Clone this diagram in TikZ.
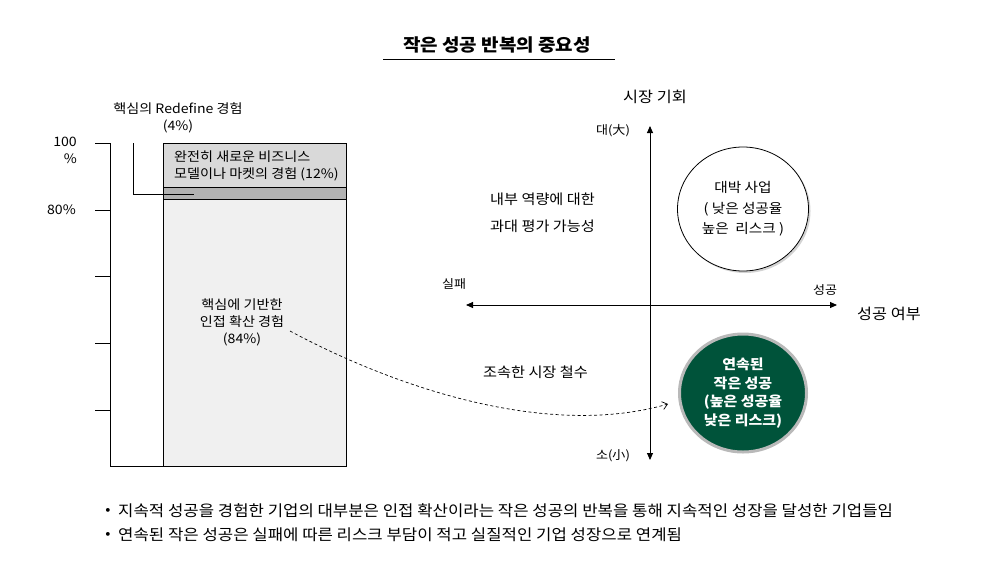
\documentclass[tikz,border=0pt]{standalone}
\usepackage{fontspec}
\setmainfont[FakeStretch=1.085]{Noto Sans CJK KR}
\usetikzlibrary{arrows.meta,shadows,shapes.geometric}
\definecolor{darkgreen}{RGB}{0,83,58}
\definecolor{ringgray}{RGB}{185,185,185}
\definecolor{bartop}{RGB}{217,217,217}
\definecolor{barmid}{RGB}{178,178,178}
\definecolor{barlow}{RGB}{240,240,240}
\begin{document}
\begin{tikzpicture}[x=1pt,y=-1pt,
  txt/.style={inner sep=0pt, align=center, font=\fontsize{13}{17}\selectfont},
  small/.style={inner sep=0pt, align=center, font=\fontsize{12}{15}\selectfont},
  axlbl/.style={inner sep=0pt, align=center, font=\fontsize{15}{18}\selectfont},
  midlbl/.style={inner sep=0pt, align=left, font=\fontsize{14}{18}\selectfont},
  bullettxt/.style={inner sep=0pt, anchor=west, font=\fontsize{15.4}{18}\selectfont},
  axisline/.style={line width=0.9pt, {Triangle[length=7pt,width=6pt]}-{Triangle[length=7pt,width=6pt]}},
  thin/.style={line width=0.8pt}
]
\useasboundingbox (0,0) rectangle (987,563);

% title
\node[inner sep=0pt, font=\fontsize{17.5}{20}\bfseries\selectfont] (title) at (497,45) {작은 성공 반복의 중요성};
\draw[thin] (383,59) -- (615,59);

% left chart axes
\draw[thin] (110,143) -- (110,466) -- (346,466);
\foreach \yy in {143,210,276,343,410} \draw[thin] (95,\yy) -- (110,\yy);

% bar segments
\draw[thin, fill=barlow] (163,199) rectangle (346,466);
\draw[thin, fill=barmid] (163,187) rectangle (346,199);
\draw[thin, fill=bartop] (163,143) rectangle (346,187);

% axis labels
\node[txt, align=right, anchor=east] (p100) at (77,150) {100\\\%};
\node[txt, anchor=east] (p80) at (76,210) {80\%};

% bar labels
\node[txt] (redef) at (178,118) {핵심의 Redefine 경험\\(4\%)};
\coordinate (leadA) at (133,143);
\coordinate (leadB) at (194,194);
\draw[thin] (leadA) |- (leadB);
\node[txt, align=left, anchor=west] (newbiz) at (174,166) {완전히 새로운 비즈니스\\모델이나 마켓의 경험 (12\%)};
\node[txt] (core) at (242,322) {핵심에 기반한\\인접 확산 경험\\(84\%)};

% quadrant
\coordinate (vtop) at (650,126);
\coordinate (vbot) at (650,460);
\coordinate (hl) at (466,305);
\coordinate (hr) at (837,305);
\draw[axisline] (vbot) -- (vtop);
\draw[axisline] (hl) -- (hr);

\node[axlbl] (market) at (655,97) {시장 기회};
\node[small] (big) at (613,131) {대(大)};
\node[small] (sm) at (613,456) {소(小)};
\node[small] (fail) at (454,284) {실패};
\node[small] (succ) at (825,290) {성공};
\node[axlbl] (succq) at (889,314) {성공 여부};

\node[midlbl, anchor=west] (over1) at (490,199) {내부 역량에 대한};
\node[midlbl, anchor=west] (over2) at (490,226) {과대 평가 가능성};
\node[midlbl, anchor=west] (quit) at (483,372) {조속한 시장 철수};

% circles
\node[ellipse, draw, line width=0.8pt, fill=white, inner sep=0pt,
  minimum width=131, minimum height=124,
  drop shadow={shadow xshift=2pt, shadow yshift=-2pt, opacity=0.35},
  align=center, font=\fontsize{13.5}{20.5}\selectfont] (jackpot) at (743,209)
  {대박 사업\\( 낮은 성공율\\높은\ \ 리스크 )};

\node[ellipse, draw=ringgray, line width=3pt, fill=darkgreen, inner sep=0pt,
  minimum width=127, minimum height=118, text=white,
  align=center, font=\fontsize{13.8}{18.5}\bfseries\selectfont] (smallwin) at (743,393)
  {연속된\\작은 성공\\(높은 성공율\\낮은 리스크)};

% dashed connector
\coordinate (dstart) at (290,331);
\coordinate (dend) at (668,404);
\draw[line width=0.7pt, dash pattern=on 3pt off 2.5pt, -{Straight Barb[length=5pt,width=8pt]}]
  (dstart) .. controls (400,390) and (550,438) .. (dend);

% bullets
\node[inner sep=0pt, font=\fontsize{14}{16}\selectfont] (dot1) at (108,511) {•};
\node[bullettxt] (b1) at (118,511) {지속적 성공을 경험한 기업의 대부분은 인접 확산이라는 작은 성공의 반복을 통해 지속적인 성장을 달성한 기업들임};
\node[inner sep=0pt, font=\fontsize{14}{16}\selectfont] (dot2) at (108,535) {•};
\node[bullettxt] (b2) at (118,535) {연속된 작은 성공은 실패에 따른 리스크 부담이 적고 실질적인 기업 성장으로 연계됨};
\end{tikzpicture}
\end{document}
